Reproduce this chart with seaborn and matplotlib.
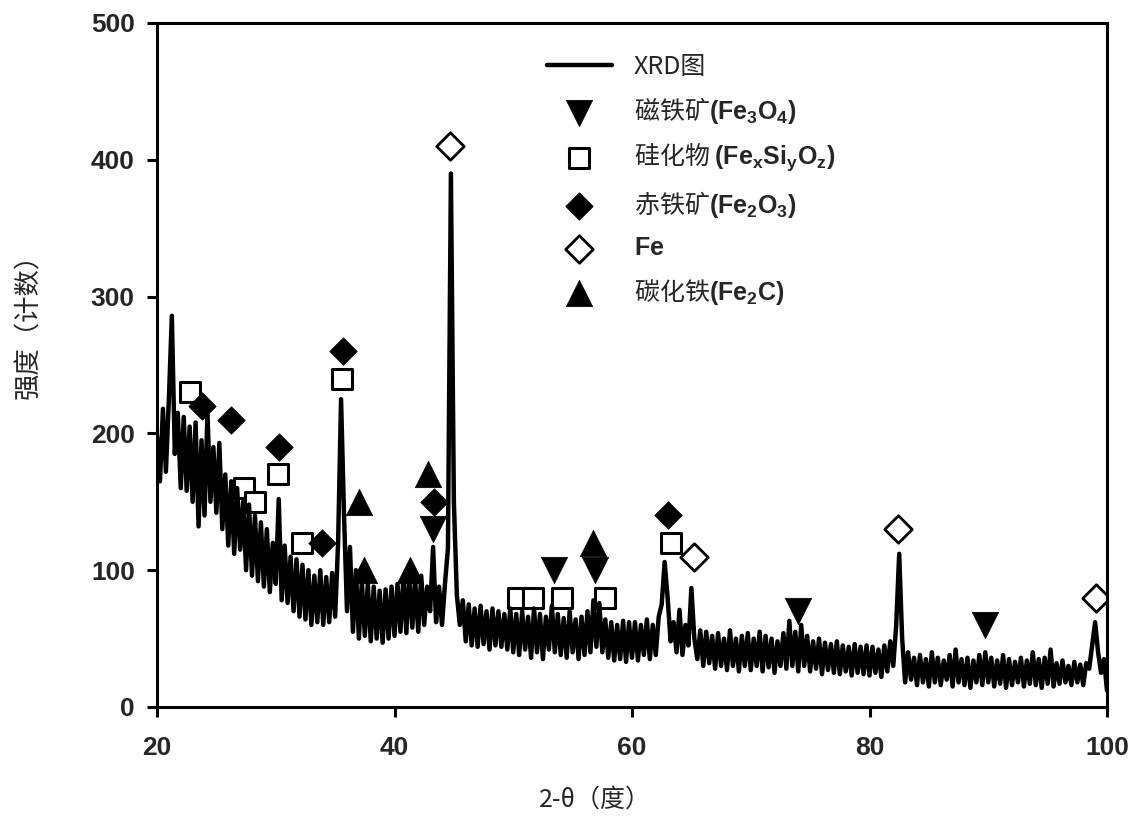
import numpy as np
import matplotlib
matplotlib.use("Agg")
import matplotlib.pyplot as plt
import seaborn as sns

step = 0.25
counts_20_40 = [
    198, 165, 218, 172, 225, 286, 185, 215, 160, 212, 158, 205, 150, 208, 132, 195,
    140, 215, 150, 190, 142, 193, 130, 170, 118, 165, 112, 160, 115, 150, 100, 148,
    96, 140, 92, 135, 88, 130, 84, 120, 90, 152, 78, 118, 76, 110, 70, 108,
    66, 104, 64, 100, 60, 96, 62, 100, 60, 95, 62, 98, 66, 120, 225, 140,
    70, 117, 55, 100, 50, 92, 52, 90, 48, 88, 50, 85, 47, 86, 50, 88,
]
counts_40_60 = [
    52, 90, 55, 95, 54, 98, 58, 92, 55, 96, 60, 88, 70, 117, 62, 88,
    60, 90, 116, 390, 150, 82, 60, 78, 48, 75, 45, 72, 44, 74, 46, 70,
    42, 72, 45, 70, 44, 68, 42, 72, 40, 68, 38, 70, 42, 66, 36, 72,
    40, 68, 35, 66, 42, 74, 40, 68, 38, 65, 36, 70, 40, 64, 35, 66,
    38, 70, 40, 78, 44, 76, 40, 64, 36, 62, 34, 60, 35, 63, 33, 62,
]
counts_60_80 = [
    36, 62, 34, 60, 38, 64, 35, 60, 38, 66, 75, 106, 80, 48, 62, 40,
    71, 38, 60, 45, 87, 50, 35, 56, 30, 55, 32, 52, 28, 54, 30, 50,
    27, 56, 30, 50, 26, 52, 30, 54, 27, 50, 30, 55, 26, 52, 29, 50,
    25, 48, 30, 54, 28, 63, 30, 55, 26, 60, 30, 52, 26, 48, 28, 50,
    24, 47, 27, 46, 25, 48, 24, 45, 26, 44, 23, 46, 25, 44, 24, 45,
]
counts_80_100 = [
    23, 44, 25, 42, 22, 45, 26, 48, 30, 60, 112, 50, 18, 40, 20, 36,
    16, 38, 18, 35, 15, 40, 18, 36, 16, 34, 20, 38, 15, 42, 18, 35,
    16, 36, 14, 34, 18, 38, 16, 40, 18, 36, 15, 34, 17, 38, 14, 35,
    16, 33, 18, 36, 15, 34, 17, 40, 16, 35, 14, 36, 17, 42, 15, 32,
    17, 34, 18, 30, 16, 33, 18, 31, 16, 32, 28, 45, 62, 40, 25, 35,
    12,
]
counts = counts_20_40 + counts_40_60 + counts_60_80 + counts_80_100
two_theta = 20 + step * np.arange(len(counts))

# phase markers (2-theta, label height)
magnetite_x = [43.2, 53.4, 56.9, 74.0, 89.7]
magnetite_y = [130, 100, 100, 70, 60]
silicate_x = [22.8, 27.35, 28.25, 30.2, 32.2, 35.55, 50.4, 51.7, 54.1, 57.7, 63.3]
silicate_y = [230, 160, 150, 170, 120, 240, 80, 80, 80, 80, 120]
hematite_x = [23.8, 26.2, 30.3, 33.9, 35.7, 43.3, 63.0]
hematite_y = [220, 210, 190, 120, 260, 150, 140]
iron_x = [44.7, 65.2, 82.4, 99.05]
iron_y = [410, 110, 130, 80]
carbide_x = [37.0, 37.4, 41.3, 42.8, 56.7]
carbide_y = [150, 100, 100, 170, 120]

sns.set_style("ticks")
plt.rcParams["font.family"] = ["Noto Sans CJK SC", "DejaVu Sans"]
plt.rcParams["mathtext.fontset"] = "custom"
plt.rcParams["mathtext.rm"] = "Liberation Sans:bold"
plt.rcParams["mathtext.it"] = "Liberation Sans:bold"
plt.rcParams["mathtext.default"] = "rm"

fig = plt.figure(figsize=(11.38, 8.18), dpi=100)
ax = fig.add_axes([157 / 1138, 1 - 707 / 818, 950 / 1138, 684 / 818])

ms = 15
sns.scatterplot(x=magnetite_x, y=magnetite_y, marker="v", s=(ms + 4) ** 2,
                color="black", edgecolor="black", linewidth=0.5,
                label=r"磁铁矿$\mathrm{(Fe_3O_4)}$", ax=ax, zorder=2)
sns.scatterplot(x=silicate_x, y=silicate_y, marker="s", s=ms ** 2,
                color="white", edgecolor="black", linewidth=2.2,
                label=r"硅化物 $\mathrm{(Fe_xSi_yO_z)}$", ax=ax, zorder=2)
sns.scatterplot(x=hematite_x, y=hematite_y, marker="D", s=(ms - 1) ** 2,
                color="black", edgecolor="black", linewidth=0.5,
                label=r"赤铁矿$\mathrm{(Fe_2O_3)}$", ax=ax, zorder=2)
sns.scatterplot(x=iron_x, y=iron_y, marker="D", s=(ms - 1) ** 2,
                color="white", edgecolor="black", linewidth=2,
                label=r"$\mathrm{Fe}$", ax=ax, zorder=2)
sns.scatterplot(x=carbide_x, y=carbide_y, marker="^", s=(ms + 4) ** 2,
                color="black", edgecolor="black", linewidth=0.5,
                label=r"碳化铁$\mathrm{(Fe_2C)}$", ax=ax, zorder=2)
sns.lineplot(x=two_theta, y=counts, color="black", linewidth=3.2,
             estimator=None, label="XRD图", ax=ax, zorder=3)

ax.set_xlim(20, 100)
ax.set_ylim(0, 500)
ax.set_xticks([20, 40, 60, 80, 100])
ax.set_yticks([0, 100, 200, 300, 400, 500])
for side in ["left", "right", "top", "bottom"]:
    ax.spines[side].set_visible(True)
    ax.spines[side].set_linewidth(2.2)
    ax.spines[side].set_color("black")
ax.tick_params(direction="out", length=7, width=2.2, color="black",
               labelsize=19)
ax.tick_params(axis="x", pad=14)
ax.tick_params(axis="y", pad=9)
for lab in ax.get_xticklabels() + ax.get_yticklabels():
    lab.set_fontfamily("Liberation Sans")
    lab.set_fontweight("bold")

ax.set_xlabel("2-θ（度）", fontsize=18)
ax.set_ylabel("强度（计数）", fontsize=19)
ax.xaxis.set_label_coords(0.461, -0.117)
ax.yaxis.set_label_coords(-0.121, 0.566)

handles, labels = ax.get_legend_handles_labels()
order = [labels.index("XRD图")] + [i for i, l in enumerate(labels) if l != "XRD图"]
ax.legend([handles[i] for i in order], [labels[i] for i in order],
          loc="upper left", bbox_to_anchor=(0.41, 0.955), frameon=False,
          fontsize=18, handlelength=2.6, handletextpad=0.9, labelspacing=0.62,
          borderaxespad=0, borderpad=0)

fig.savefig("out.png", dpi=100)
